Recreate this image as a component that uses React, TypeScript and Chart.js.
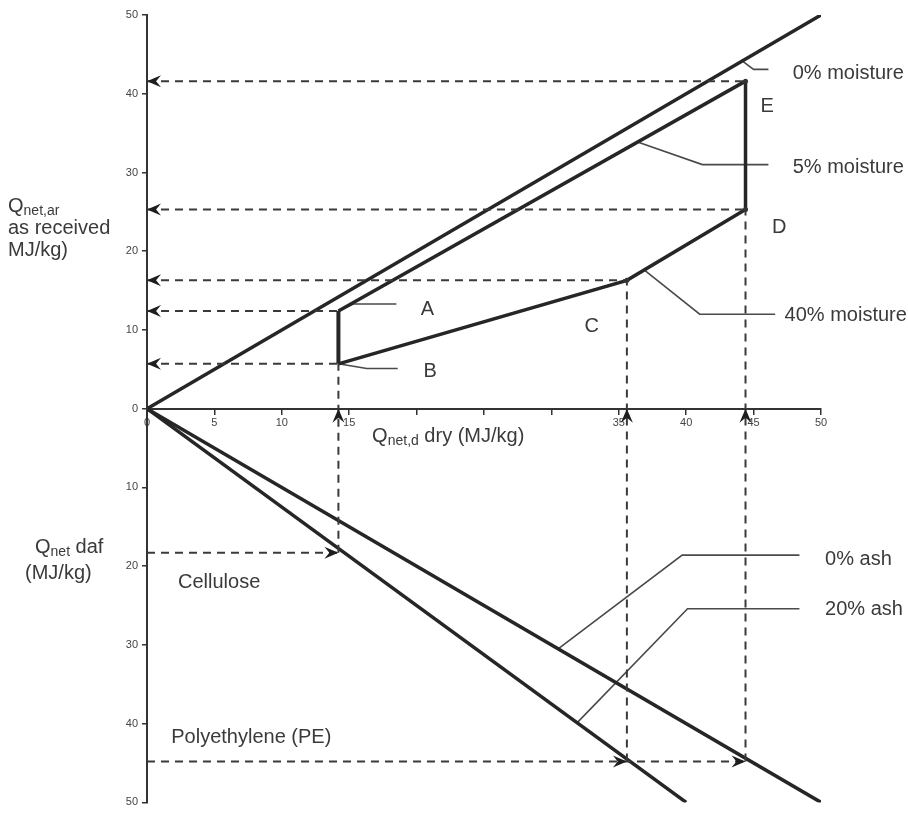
import React, { useEffect, useRef } from 'react';
import { Chart, registerables } from 'chart.js';

Chart.register(...registerables);

// ---- data (MJ/kg) ----
const pointA = { x: 14.2, y: 12.4 };
const pointB = { x: 14.2, y: 5.7 };
const pointC = { x: 35.6, y: 16.3 };
const pointD = { x: 44.4, y: 25.3 };
const pointE = { x: 44.4, y: 41.6 };
const celluloseDaf = -18.3;
const polyethyleneDaf = -44.8;

const moisture0Line = [{ x: 0, y: 0 }, { x: 50, y: 50 }];
const moisture5Line = [pointA, pointE];
const moisture40Line = [pointB, pointC, pointD];
const celluloseRange = [pointB, pointA];
const peRange = [pointD, pointE];
const ash0Line = [{ x: 0, y: 0 }, { x: 50, y: -50 }];
const ash20Line = [{ x: 0, y: 0 }, { x: 40, y: -50 }];

const xTickValues = [0, 5, 10, 15, 20, 25, 30, 35, 40, 45, 50];
const xHiddenLabels = [20, 25, 30];

// leader lines (data coordinates)
const leader0Moist = [{ x: 44.2, y: 44.1 }, { x: 45.0, y: 43.1 }, { x: 46.1, y: 43.1 }];
const leader5Moist = [{ x: 36.5, y: 33.8 }, { x: 41.2, y: 31.0 }, { x: 46.1, y: 31.0 }];
const leader40Moist = [{ x: 36.9, y: 17.6 }, { x: 41.0, y: 12.0 }, { x: 46.6, y: 12.0 }];
const leaderA = [pointA, { x: 15.3, y: 13.3 }, { x: 18.5, y: 13.3 }];
const leaderB = [pointB, { x: 16.3, y: 5.1 }, { x: 18.6, y: 5.1 }];
const leaderAsh0 = [{ x: 30.5, y: -30.5 }, { x: 39.7, y: -18.6 }, { x: 48.4, y: -18.6 }];
const leaderAsh20 = [{ x: 31.9, y: -39.9 }, { x: 40.1, y: -25.4 }, { x: 48.4, y: -25.4 }];

// text annotations: [text, x, y, align]
const labelTexts: [string, number, number, CanvasTextAlign][] = [
  ['0% moisture', 47.9, 42.6, 'left'],
  ['5% moisture', 47.9, 30.6, 'left'],
  ['40% moisture', 47.3, 11.9, 'left'],
  ['A', 20.8, 12.6, 'center'],
  ['B', 21.0, 4.7, 'center'],
  ['C', 33.0, 10.4, 'center'],
  ['D', 46.9, 23.0, 'center'],
  ['E', 46.0, 38.4, 'center'],
  ['0% ash', 50.3, -19.1, 'left'],
  ['20% ash', 50.3, -25.5, 'left'],
  ['Cellulose', 2.3, -22.1, 'left'],
  ['Polyethylene (PE)', 1.8, -41.7, 'left'],
];

const LINE = '#262626';
const DASH = '#3a3a3a';
const LEAD = '#4a4a4a';
const TEXT = '#3a3a3a';
const FONT = '"Liberation Sans", Arial, sans-serif';
const FS = 20;

function solid(data: any[], width = 3.5) {
  return { data, borderColor: LINE, borderWidth: width, pointRadius: 0, tension: 0, fill: false, showLine: true };
}
function dashed(data: any[]) {
  return { data, borderColor: DASH, borderWidth: 2, borderDash: [8, 6], pointRadius: 0, tension: 0, fill: false, showLine: true };
}
function leader(data: any[]) {
  return { data, borderColor: LEAD, borderWidth: 1.6, pointRadius: 0, tension: 0, fill: false, showLine: true };
}

function arrowHead(ctx: CanvasRenderingContext2D, x: number, y: number, angle: number) {
  const len = 14, half = 6;
  ctx.save();
  ctx.translate(x, y);
  ctx.rotate(angle);
  ctx.beginPath();
  ctx.moveTo(0, 0);
  ctx.lineTo(-len, -half);
  ctx.lineTo(-len * 0.65, 0);
  ctx.lineTo(-len, half);
  ctx.closePath();
  ctx.fillStyle = '#1e1e1e';
  ctx.fill();
  ctx.restore();
}

function subText(ctx: CanvasRenderingContext2D, x: number, base: number, main: string, sub: string, rest: string, size: number) {
  ctx.font = `${size}px ${FONT}`;
  ctx.fillText(main, x, base);
  let cx = x + ctx.measureText(main).width;
  ctx.font = `${Math.round(size * 0.68)}px ${FONT}`;
  ctx.fillText(sub, cx, base + 3);
  cx += ctx.measureText(sub).width;
  ctx.font = `${size}px ${FONT}`;
  ctx.fillText(rest, cx, base);
}

const overlayPlugin = {
  id: 'overlay',
  afterDatasetsDraw(chart: any) {
    const { ctx, scales } = chart;
    const xs = scales.x, ys = scales.y;
    const px = (v: number) => xs.getPixelForValue(v);
    const py = (v: number) => ys.getPixelForValue(v);
    // arrows pointing left at y-axis
    [pointE, pointD, pointC, pointA, pointB].forEach((p) => arrowHead(ctx, px(0), py(p.y), Math.PI));
    // arrows pointing up at x-axis
    [pointB, pointC, pointD].forEach((p) => arrowHead(ctx, px(p.x), py(0), -Math.PI / 2));
    // arrows pointing right at daf lines
    arrowHead(ctx, px(pointA.x), py(celluloseDaf), 0);
    arrowHead(ctx, px(pointC.x), py(polyethyleneDaf), 0);
    arrowHead(ctx, px(pointD.x), py(polyethyleneDaf), 0);
    // small dots
    [pointC, pointD, pointE].forEach((p) => {
      ctx.beginPath();
      ctx.arc(px(p.x), py(p.y), 2.5, 0, Math.PI * 2);
      ctx.fillStyle = '#333';
      ctx.fill();
    });
    ctx.save();
    ctx.fillStyle = TEXT;
    ctx.textBaseline = 'middle';
    ctx.font = `${FS}px ${FONT}`;
    labelTexts.forEach(([t, x, y, a]) => {
      ctx.textAlign = a;
      ctx.fillText(t, px(x), py(y));
    });
    // axis titles
    ctx.textAlign = 'left';
    ctx.textBaseline = 'alphabetic';
    const left = chart.chartArea.left;
    subText(ctx, left - 139, py(25.0), 'Q', 'net,ar', '', FS);
    ctx.font = `${FS}px ${FONT}`;
    ctx.fillText('as received', left - 139, py(22.2));
    ctx.fillText('MJ/kg)', left - 139, py(19.4));
    subText(ctx, left - 112, py(-18.3), 'Q', 'net', ' daf', FS);
    ctx.font = `${FS}px ${FONT}`;
    ctx.fillText('(MJ/kg)', left - 122, py(-21.6));
    subText(ctx, px(16.7), py(-4.2), 'Q', 'net,d', ' dry (MJ/kg)', FS);
    ctx.restore();
  },
};

export default function App() {
  const ref = useRef<HTMLCanvasElement>(null);
  useEffect(() => {
    document.body.style.margin = '0';
    const chart = new Chart(ref.current as HTMLCanvasElement, {
      type: 'line',
      data: {
        datasets: [
          dashed([{ x: 0, y: pointE.y }, pointE]),
          dashed([{ x: 0, y: pointD.y }, pointD]),
          dashed([{ x: 0, y: pointC.y }, pointC]),
          dashed([{ x: 0, y: pointA.y }, pointA]),
          dashed([{ x: 0, y: pointB.y }, pointB]),
          dashed([{ x: pointB.x, y: celluloseDaf }, pointB]),
          dashed([{ x: pointC.x, y: polyethyleneDaf }, pointC]),
          dashed([{ x: pointD.x, y: polyethyleneDaf }, pointD]),
          dashed([{ x: 0, y: celluloseDaf }, { x: pointA.x, y: celluloseDaf }]),
          dashed([{ x: 0, y: polyethyleneDaf }, { x: pointD.x, y: polyethyleneDaf }]),
          solid(moisture0Line),
          solid(moisture5Line),
          solid(moisture40Line),
          solid(celluloseRange, 4),
          solid(peRange),
          solid(ash0Line),
          solid(ash20Line),
          leader(leader0Moist),
          leader(leader5Moist),
          leader(leader40Moist),
          leader(leaderA),
          leader(leaderB),
          leader(leaderAsh0),
          leader(leaderAsh20),
        ] as any,
      },
      options: {
        animation: false,
        responsive: false,
        maintainAspectRatio: false,
        layout: { padding: { left: 107, right: 87, top: 15, bottom: 7 } },
        plugins: { legend: { display: false }, tooltip: { enabled: false } },
        scales: {
          x: {
            type: 'linear',
            min: 0,
            max: 50,
            position: { y: 0 } as any,
            afterBuildTicks: (s: any) => { s.ticks = xTickValues.map((v) => ({ value: v })); },
            ticks: {
              autoSkip: false,
              maxRotation: 0,
              padding: 3,
              color: '#444',
              font: { family: FONT, size: 11 },
              callback: (v: any) => (xHiddenLabels.includes(Number(v)) ? '' : String(v)),
            },
            grid: { drawOnChartArea: false, drawTicks: true, tickLength: 5, color: '#333', lineWidth: 1.5 },
            border: { display: true, color: '#333', width: 2 },
          },
          y: {
            type: 'linear',
            min: -50,
            max: 50,
            position: 'left',
            afterFit: (s: any) => { s.width = 40; },
            ticks: {
              stepSize: 10,
              padding: 4,
              color: '#444',
              font: { family: FONT, size: 11 },
              callback: (v: any) => String(Math.abs(Number(v))),
            },
            grid: { drawOnChartArea: false, drawTicks: true, tickLength: 5, color: '#333', lineWidth: 1.5 },
            border: { display: true, color: '#333', width: 2 },
          },
        },
      },
      plugins: [overlayPlugin],
    });
    return () => chart.destroy();
  }, []);
  return (
    <div style={{ width: 908, height: 813, background: '#fff' }}>
      <canvas ref={ref} width={908} height={813} style={{ display: 'block' }} />
    </div>
  );
}
